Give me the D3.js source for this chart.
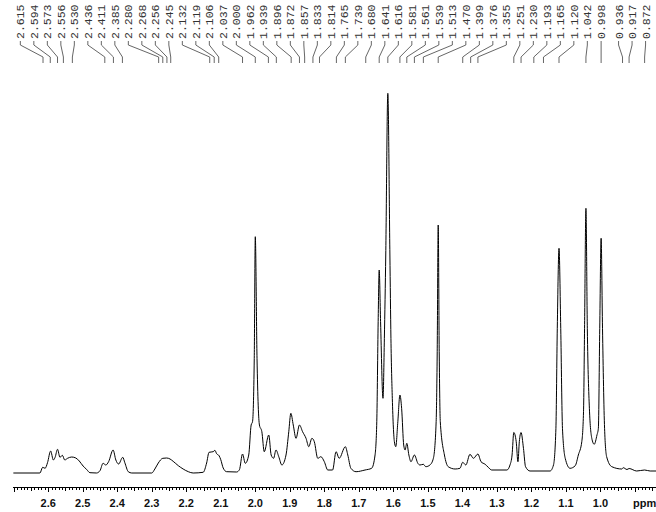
<!DOCTYPE html>
<html>
<head>
<meta charset="utf-8">
<script src="https://cdn.jsdelivr.net/npm/d3@7"></script>
<style>
  html, body { margin: 0; padding: 0; background: #fff; }
  svg { display: block; }
</style>
</head>
<body>
<svg id="chart" width="656" height="512"></svg>
<script>
// ---------------- DATA ----------------
// Chemical shift (ppm) of the spectrum trace vertices
const specPpm = [
  2.701, 2.624, 2.616, 2.609, 2.602, 2.593, 2.585, 2.580, 2.573, 2.566,
  2.559, 2.552, 2.544, 2.532, 2.520, 2.510, 2.499, 2.489, 2.479, 2.460,
  2.450, 2.441, 2.433, 2.425, 2.412, 2.404, 2.396, 2.384, 2.378, 2.368,
  2.358, 2.300, 2.291, 2.281, 2.268, 2.257, 2.247, 2.238, 2.223, 2.209,
  2.194, 2.180, 2.151, 2.141, 2.134, 2.122, 2.117, 2.112, 2.105, 2.100,
  2.093, 2.083, 2.054, 2.046, 2.037, 2.029, 2.019, 2.012, 2.008, 2.003,
  2.000, 1.995, 1.988, 1.981, 1.974, 1.961, 1.954, 1.947, 1.940, 1.932,
  1.923, 1.911, 1.903, 1.897, 1.890, 1.882, 1.872, 1.863, 1.853, 1.845,
  1.836, 1.829, 1.819, 1.810, 1.800, 1.790, 1.776, 1.766, 1.757, 1.739,
  1.732, 1.723, 1.708, 1.682, 1.663, 1.653, 1.648, 1.644, 1.641, 1.637,
  1.630, 1.626, 1.622, 1.616, 1.610, 1.607, 1.603, 1.597, 1.593, 1.587,
  1.581, 1.576, 1.570, 1.566, 1.561, 1.555, 1.549, 1.539, 1.529, 1.523,
  1.513, 1.506, 1.494, 1.484, 1.476, 1.473, 1.470, 1.467, 1.464, 1.452,
  1.441, 1.421, 1.407, 1.399, 1.390, 1.378, 1.368, 1.355, 1.346, 1.334,
  1.325, 1.315, 1.271, 1.262, 1.256, 1.251, 1.244, 1.239, 1.235, 1.230,
  1.223, 1.217, 1.204, 1.146, 1.136, 1.129, 1.125, 1.120, 1.115, 1.110,
  1.102, 1.088, 1.073, 1.064, 1.054, 1.049, 1.046, 1.042, 1.038, 1.032,
  1.025, 1.018, 1.010, 1.006, 1.002, 0.998, 0.994, 0.988, 0.982, 0.967,
  0.938, 0.934, 0.923, 0.917, 0.895, 0.872, 0.856, 0.839
];
// Intensity (arbitrary units) of each vertex
const specInt = [
  0, 0, 5.7, 4.7, 10.3, 22, 13, 15.7, 23.7, 15.7,
  17.7, 13, 14.7, 16, 15, 12, 7, 3.7, 0.3, 0,
  2.3, 9.7, 8, 11.3, 23, 13, 9, 15.7, 10.3, 1.3,
  0, 0, 4, 10, 14.7, 15, 14, 11.7, 7.3, 4,
  1.3, 0, 0.7, 10, 20.7, 21.3, 22.7, 19.3, 17.3, 13.3,
  5, 1.3, 1, 3.3, 19, 9.7, 18, 48, 51.3, 114.7,
  236.3, 114.7, 48, 41.3, 21.3, 38, 18, 14.7, 23, 16.3,
  8, 18, 41.3, 59.7, 48, 34.7, 48, 41.3, 34.7, 26.3,
  34.7, 31.3, 14.7, 16.3, 11.3, 3, 3, 21.3, 14.7, 26.3,
  18, 4.7, 1.3, 3, 4.7, 18, 51.3, 151.3, 203, 151.3,
  74.7, 134.7, 218, 379.7, 218, 134.7, 74.7, 31.3, 26.3, 51.3,
  78, 64.7, 28, 23, 29.7, 18, 11.3, 18, 9.7, 8,
  8.7, 6.3, 8, 14.7, 51.3, 118, 248, 118, 51.3, 18,
  6.3, 4, 4.7, 10.7, 8, 18.7, 14.7, 19, 11.3, 8.7,
  5.7, 3, 3, 8, 18, 40.5, 31.3, 11.3, 31.3, 40.5,
  24.7, 6.3, 2, 2, 8, 44.7, 144.7, 224.7, 144.7, 44.7,
  14.7, 4.7, 7.3, 18, 31.3, 61.3, 144.7, 264.7, 144.7, 64.7,
  34.7, 28.7, 38, 44.7, 144.7, 234.7, 144.7, 44.7, 16.3, 6.3,
  4, 5.3, 3.5, 4.5, 2, 3, 2, 2
];
// Peak-pick labels along the top
const peakLabels = [
  "2.615", "2.594", "2.573", "2.556", "2.530", "2.436", "2.411", "2.385",
  "2.280", "2.268", "2.256", "2.245", "2.132", "2.119", "2.106", "2.037",
  "2.000", "1.962", "1.939", "1.896", "1.872", "1.857", "1.833", "1.814",
  "1.765", "1.739", "1.680", "1.641", "1.616", "1.581", "1.561", "1.539",
  "1.513", "1.470", "1.399", "1.376", "1.355", "1.251", "1.230", "1.193",
  "1.165", "1.120", "1.042", "0.998", "0.936", "0.917", "0.872"
];
// Axis ticks
const majorTicks = [2.6, 2.5, 2.4, 2.3, 2.2, 2.1, 2.0, 1.9, 1.8, 1.7, 1.6, 1.5, 1.4, 1.3, 1.2, 1.1, 1.0];
const tickLabels = ["2.6", "2.5", "2.4", "2.3", "2.2", "2.1", "2.0", "1.9", "1.8", "1.7", "1.6", "1.5", "1.4", "1.3", "1.2", "1.1", "1.0"];
const axisUnit = "ppm";
const ppmDomain = [2.702, 0.839];
const intDomain = [0, 380];

// ---------------- DRAW ----------------
const svg = d3.select("#chart");
const x = d3.scaleLinear().domain(ppmDomain).range([13, 656]);
const y = d3.scaleLinear().domain(intDomain).range([473, 93]);

// spectrum
const pts = specPpm.map((p, i) => [p, specInt[i]]);
svg.append("path")
  .datum(pts)
  .attr("fill", "none")
  .attr("stroke", "#000")
  .attr("stroke-width", 1)
  .attr("d", d3.line().x(d => x(d[0])).y(d => y(d[1])).curve(d3.curveMonotoneX));

// axis
const axisY = 487;
const minorTicks = d3.range(270, 83, -1).map(v => v / 100);
const gAxis = svg.append("g").attr("transform", `translate(0,${axisY})`);
gAxis.append("line")
  .attr("x1", x.range()[0]).attr("x2", x.range()[1])
  .attr("y1", 0.5).attr("y2", 0.5)
  .attr("stroke", "#000").attr("stroke-width", 1);
gAxis.selectAll("line.tick")
  .data(minorTicks)
  .enter().append("line")
  .attr("class", "tick")
  .attr("x1", d => Math.round(x(d)) + 0.5)
  .attr("x2", d => Math.round(x(d)) + 0.5)
  .attr("y1", 0.5)
  .attr("y2", d => {
    const k = Math.round(d * 100);
    return k % 10 === 0 ? 5 : (k % 5 === 0 ? 4 : 3);
  })
  .attr("stroke", "#000").attr("stroke-width", 1);
gAxis.selectAll("text.lbl")
  .data(majorTicks)
  .enter().append("text")
  .attr("class", "lbl")
  .attr("x", d => x(d))
  .attr("y", 20)
  .attr("text-anchor", "middle")
  .attr("font-family", "Liberation Sans, Arial, sans-serif")
  .attr("font-size", 11)
  .attr("font-weight", "bold")
  .attr("fill", "#111")
  .text((d, i) => tickLabels[i]);
gAxis.append("text")
  .attr("x", 633)
  .attr("y", 20)
  .attr("font-family", "Liberation Sans, Arial, sans-serif")
  .attr("font-size", 11)
  .attr("font-weight", "bold")
  .attr("fill", "#111")
  .text(axisUnit);

// peak label layout (1-D cluster de-overlap)
const gap = 13.5, minX = 17, maxX = 648;
const items = peakLabels.map(s => ({ s, t: x(+s) })).sort((a, b) => a.t - b.t);
let clusters = [];
items.forEach(it => {
  clusters.push({ items: [it], sum: it.t, start: it.t });
  while (clusters.length > 1) {
    const b = clusters[clusters.length - 1];
    const a = clusters[clusters.length - 2];
    if (a.start + a.items.length * gap > b.start) {
      const sum = a.sum + b.sum - b.items.length * a.items.length * gap;
      const m = { items: a.items.concat(b.items), sum };
      m.start = sum / m.items.length;
      m.start = Math.max(minX, Math.min(m.start, maxX - (m.items.length - 1) * gap));
      clusters.pop(); clusters.pop(); clusters.push(m);
    } else break;
  }
});
clusters.forEach(c => c.items.forEach((it, k) => { it.p = c.start + k * gap; }));

const gLab = svg.append("g");
items.forEach(it => {
  gLab.append("path")
    .attr("d", `M${it.p},41 L${it.p},45 L${it.t},57 L${it.t},63`)
    .attr("fill", "none")
    .attr("stroke", "#555")
    .attr("stroke-width", 0.9);
  gLab.append("text")
    .attr("transform", `translate(${it.p},39) rotate(-90)`)
    .attr("dy", "0.35em")
    .attr("font-family", "Liberation Mono, DejaVu Sans Mono, monospace")
    .attr("font-size", 11.5)
    .attr("fill", "#333")
    .text(it.s);
});
</script>
</body>
</html>
